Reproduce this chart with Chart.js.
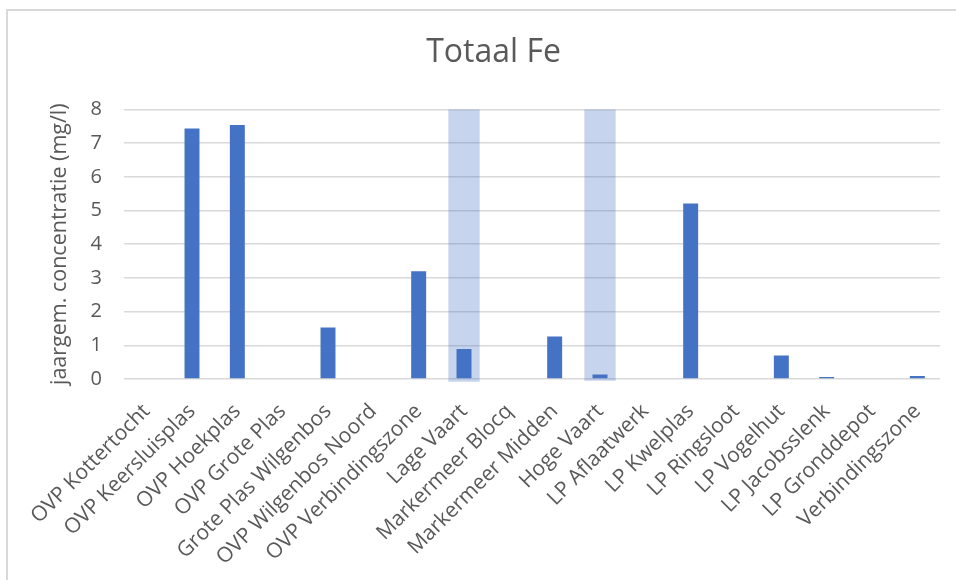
<!DOCTYPE html>
<html>
<head>
<meta charset="utf-8">
<script src="https://cdn.jsdelivr.net/npm/chart.js@4/dist/chart.umd.min.js"></script>
<style>
  html, body { margin: 0; padding: 0; background: #fff; }
  .wrap { position: relative; width: 956px; height: 580px; overflow: hidden; }
  .frame { position: absolute; left: 6px; top: 9px; width: 980px; height: 600px;
           border-top: 2px solid #d9d9d9; border-left: 2px solid #d9d9d9; }
  canvas { position: absolute; left: 0; top: 0; }
</style>
</head>
<body>
<div class="wrap">
  <div class="frame"></div>
  <canvas id="myChart" width="956" height="580"></canvas>
</div>
<script>
const locaties = [
  'OVP Kottertocht', 'OVP Keersluisplas', 'OVP Hoekplas', 'OVP Grote Plas',
  'Grote Plas Wilgenbos', 'OVP Wilgenbos Noord', 'OVP Verbindingszone', 'Lage Vaart',
  'Markermeer Blocq', 'Markermeer Midden', 'Hoge Vaart', 'LP Aflaatwerk',
  'LP Kwelplas', 'LP Ringsloot', 'LP Vogelhut', 'LP Jacobsslenk',
  'LP Gronddepot', 'Verbindingszone'
]

// jaargemiddelde Fe (mg/l)
const totaalFe = [
  null, 7.43, 7.54, null,
  1.53, null, 3.2, 0.89,
  null, 1.26, 0.13, null,
  5.21, null, 0.7, 0.06,
  null, 0.09
]

// gemarkeerde kolommen (van onder tot boven)
const markering = [
  null, null, null, null,
  null, null, null, [-0.08, 8],
  null, null, [-0.05, 8], null,
  null, null, null, null,
  null, null
]

const yTicks = [0, 1, 2, 3, 4, 5, 6, 7, 8]

const grijs = '#595959'
const font = 'Open Sans'

const ctx = document.getElementById('myChart')

new Chart(ctx, {
  type: 'bar',
  data: {
    labels: locaties,
    datasets: [{
      label: 'Totaal Fe',
      data: totaalFe,
      backgroundColor: '#4472C4',
      categoryPercentage: 1,
      barPercentage: 0.33,
      grouped: false,
      order: 0
    }, {
      label: 'markering',
      data: markering,
      backgroundColor: 'rgba(68,114,196,0.3)',
      categoryPercentage: 1,
      barPercentage: 0.69,
      grouped: false,
      clip: false,
      order: 1
    }]
  },
  options: {
    responsive: false,
    animation: false,
    layout: {
      padding: { left: 47, right: 16, top: 0, bottom: 0 }
    },
    plugins: {
      legend: { display: false },
      tooltip: { enabled: false },
      title: {
        display: true,
        text: 'Totaal Fe',
        color: grijs,
        font: { family: font, size: 32, weight: 'normal' },
        padding: { top: 34, bottom: 37 }
      }
    },
    scales: {
      x: {
        grid: { display: false },
        border: { display: false },
        ticks: {
          color: grijs,
          font: { family: font, size: 21 },
          minRotation: 45,
          maxRotation: 45,
          autoSkip: false,
          padding: 12
        },
        afterFit: scale => { scale.height = 201 }
      },
      y: {
        min: 0,
        max: 8,
        afterBuildTicks: scale => { scale.ticks = yTicks.map(v => ({ value: v })) },
        grid: { color: '#d9d9d9', lineWidth: 1.5, drawTicks: false },
        border: { display: false },
        ticks: {
          color: grijs,
          font: { family: font, size: 20 },
          padding: 22
        },
        title: {
          display: true,
          text: 'jaargem. concentratie (mg/l)',
          color: grijs,
          font: { family: font, size: 21.5 },
          padding: 0
        },
        afterFit: scale => { scale.width = 77 }
      }
    }
  }
})
</script>
</body>
</html>
